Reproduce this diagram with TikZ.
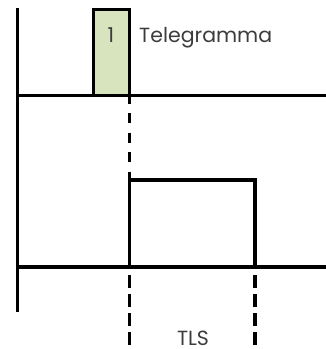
\documentclass[tikz,border=0pt]{standalone}
\usepackage{fontspec}
\setmainfont{Poppins}
\definecolor{boxgreen}{RGB}{215,228,189}
\definecolor{txtgray}{RGB}{60,60,60}
\begin{document}
\begin{tikzpicture}[x=1pt,y=-1pt,
  axisline/.style={line width=3.5pt},
  pulseline/.style={line width=3.5pt},
  dashline/.style={line width=3.5pt, dash pattern=on 10pt off 9.5pt},
  dashlow/.style={line width=3.5pt, dash pattern=on 12.5pt off 6.5pt},
  lbl/.style={font=\fontsize{20.5}{24}\selectfont, text=txtgray, inner sep=0pt},
  msgbox/.style={draw, line width=3pt, fill=boxgreen}]
\useasboundingbox (0,0) rectangle (326,349);
% coordinates
\coordinate (axtop) at (17.5,8);
\coordinate (axbot) at (17.5,312);
\coordinate (l1a) at (16,95.5);
\coordinate (l1b) at (326,95.5);
\coordinate (l2a) at (16,267);
\coordinate (l2b) at (326,267);
\coordinate (midtop) at (129.5,93.5);
\coordinate (midbot) at (129.5,178);
\coordinate (pa) at (129.5,267);
\coordinate (pb) at (129.5,180);
\coordinate (pc) at (255,180);
\coordinate (pd) at (255,267);
\coordinate (lda) at (129.5,275);
\coordinate (ldb) at (129.5,349);
\coordinate (rda) at (255,275);
\coordinate (rdb) at (255,349);
% message box
\draw[msgbox] (93.5,9.5) rectangle (129,95.5);
\node[lbl, anchor=base] (one) at (111,42.5) {1};
\node[lbl, anchor=base west] (tele) at (139,42.5) {Telegramma};
% axes
\draw[axisline] (axtop) -- (axbot);
\draw[axisline] (l1a) -- (l1b);
\draw[axisline] (l2a) -- (l2b);
% dashed
\draw[dashline] (midtop) -- (midbot);
\draw[dashlow] (lda) -- (ldb);
\draw[dashlow] (rda) -- (rdb);
% pulse
\draw[pulseline] (pa) -- (pb) -- (pc) -- (pd);
\node[lbl, anchor=base] (tls) at (193,345) {TLS};
\end{tikzpicture}
\end{document}
